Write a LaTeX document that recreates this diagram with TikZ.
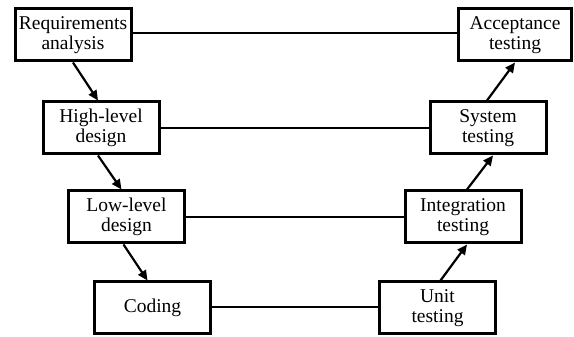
\documentclass[tikz,border=0pt]{standalone}
\usepackage{fontspec}
\setmainfont{Liberation Serif}
\usetikzlibrary{arrows.meta}
\begin{document}
\begin{tikzpicture}[x=1pt,y=1pt,
  stage/.style={draw=black, line width=3pt, minimum width=116pt, minimum height=52pt,
    inner sep=0pt, align=center, font=\fontsize{19.5}{20}\selectfont},
  link/.style={line width=2pt},
  flow/.style={line width=2.2pt, -{Triangle[length=10pt,width=9pt]}}]
\useasboundingbox (0,0) rectangle (574,337);
\node[stage] (req) at (73,302) {Requirements\\analysis};
\node[stage] (hld) at (101,209) {High-level\\design};
\node[stage] (lld) at (126.5,120) {Low-level\\design};
\node[stage] (cod) at (152.5,29) {Coding};
\node[stage] (unt) at (437.5,29) {Unit\\testing};
\node[stage] (int) at (463,120) {Integration\\testing};
\node[stage] (sys) at (488,209) {System\\testing};
\node[stage, minimum width=113pt] (acc) at (515,302) {Acceptance\\testing};
\draw[link] ([yshift=2pt]req.east) -- ([yshift=2pt]acc.west);
\draw[link] (hld.east) -- (sys.west);
\draw[link] (lld.east) -- (int.west);
\draw[link] ([yshift=1pt]cod.east) -- ([yshift=1pt]unt.west);
\draw[flow] (req.south) -- ([xshift=-3pt]hld.north);
\draw[flow] ([xshift=-3pt]hld.south) -- ([xshift=-5pt]lld.north);
\draw[flow] ([xshift=-3pt]lld.south) -- ([xshift=-5pt]cod.north);
\draw[flow] ([xshift=3pt]unt.north) -- ([xshift=4pt]int.south);
\draw[flow] ([xshift=4pt]int.north) -- ([xshift=5pt]sys.south);
\draw[flow] ([xshift=-1pt]sys.north) -- (acc.south);
\end{tikzpicture}
\end{document}
